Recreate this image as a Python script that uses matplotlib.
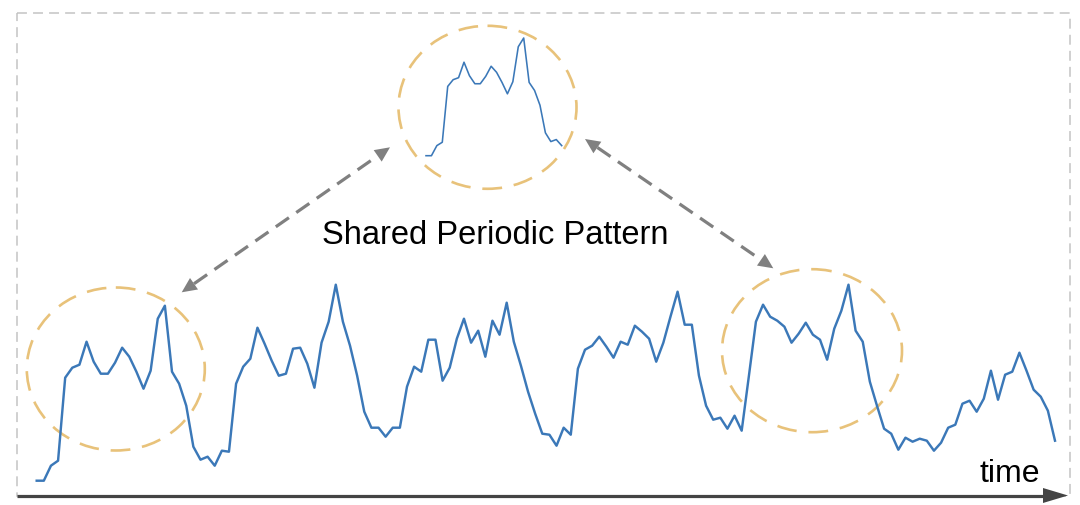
import numpy as np
import matplotlib
matplotlib.use("Agg")
from matplotlib import pyplot as plt
from matplotlib.patches import Ellipse, Polygon, Rectangle

plt.rcParams['font.family'] = ['Liberation Sans', 'DejaVu Sans']

# series values (height above the time axis)
values = [0, 0, 15, 20, 103, 113, 116, 139, 119, 107, 107, 118, 133, 124, 109, 92,
          110, 162, 175, 109, 97, 75, 34, 21, 24, 15, 30, 29, 97, 114, 122, 153,
          137, 120, 105, 107, 132, 133, 117, 93, 138, 159, 196, 159, 135, 105, 69, 53,
          53, 44, 53, 53, 94, 114, 109, 141, 141, 100, 113, 142, 162, 138, 150, 124,
          160, 146, 178, 139, 115, 89, 67, 47, 46, 35, 53, 46, 112, 131, 135, 144,
          134, 123, 139, 136, 155, 149, 142, 119, 138, 164, 189, 156, 156, 105, 75, 61,
          63, 52, 65, 50, 104, 159, 176, 164, 160, 154, 138, 147, 158, 146, 141, 121,
          152, 170, 196, 150, 139, 99, 75, 52, 47, 31, 43, 39, 42, 40, 30, 38,
          53, 56, 77, 80, 69, 82, 110, 81, 106, 109, 128, 110, 91, 84, 70, 40]
pattern = values[:26]   # the shared periodic pattern shown enlarged at the top
label = "Shared Periodic Pattern"
xlabel = "time"

W, H = 1080, 506
BLUE = '#3b78b8'
GOLD = '#e8c27a'
GREY = '#808080'

fig = plt.figure(figsize=(W / 100, H / 100), dpi=100)

# canvas axes in pixel coordinates for the annotations
ax0 = fig.add_axes([0, 0, 1, 1])
ax0.set_xlim(0, W)
ax0.set_ylim(H, 0)
ax0.axis('off')


def frac(x0, y0, x1, y1):
    """pixel box -> figure fraction [left, bottom, width, height]"""
    return [x0 / W, 1 - y1 / H, (x1 - x0) / W, (y1 - y0) / H]


def head(tip, tail, L, Wd, color):
    tip = np.array(tip, float)
    d = tip - np.array(tail, float)
    d /= np.hypot(*d)
    n = np.array([-d[1], d[0]])
    base = tip - d * L
    ax0.add_patch(Polygon([tip, base + n * Wd / 2, base - n * Wd / 2],
                          closed=True, fc=color, ec='none', zorder=5))
    return base


def dbl_arrow(p0, p1):
    b0 = head(p0, p1, 15, 14, GREY)
    b1 = head(p1, p0, 15, 14, GREY)
    ax0.plot([b0[0], b1[0]], [b0[1], b1[1]], color=GREY, lw=2.3,
             linestyle=(0, (5, 2.8)), zorder=4)


# dashed frame
ax0.add_patch(Rectangle((17.3, 14), 1052.5, 483, fill=False, ec='#c4c4c4',
                        lw=1.1, linestyle=(0, (6.5, 4))))

# time axis
ax0.plot([17, 1045], [496.5, 496.5], color='#444444', lw=2.3, solid_capstyle='butt')
head((1068, 496.5), (17, 496.5), 25, 15, '#444444')
ax0.text(980, 481.7, xlabel, fontsize=23, va='baseline', ha='left', color='black')

# ellipses
for cx, cy, w, h in [(115.8, 370, 178, 163), (487.5, 108.3, 178, 163), (812, 351.7, 180, 163)]:
    ax0.add_patch(Ellipse((cx, cy), w, h, fill=False, ec=GOLD, lw=1.9,
                          linestyle=(0, (7.5, 4.5)), zorder=3))

dbl_arrow((181.7, 293.3), (390, 148.3))
dbl_arrow((585, 140), (773.3, 269.3))

ax0.text(495.7, 244.3, label, fontsize=23.5, ha='center', va='baseline', color='black')

# main series
ax = fig.add_axes(frac(36.7, 285.7, 1055, 481.7))
ax.plot(np.arange(len(values)), values, color=BLUE, lw=1.75, clip_on=False)
ax.set_xlim(0, len(values) - 1)
ax.set_ylim(0, 196)
ax.axis('off')

# enlarged pattern
axi = fig.add_axes(frac(426, 39, 561.7, 156.7))
axi.plot(np.arange(len(pattern)), pattern, color=BLUE, lw=1.15, clip_on=False)
axi.set_xlim(0, len(pattern) - 1)
axi.set_ylim(0, 175)
axi.axis('off')

fig.savefig('out.png', dpi=100)
